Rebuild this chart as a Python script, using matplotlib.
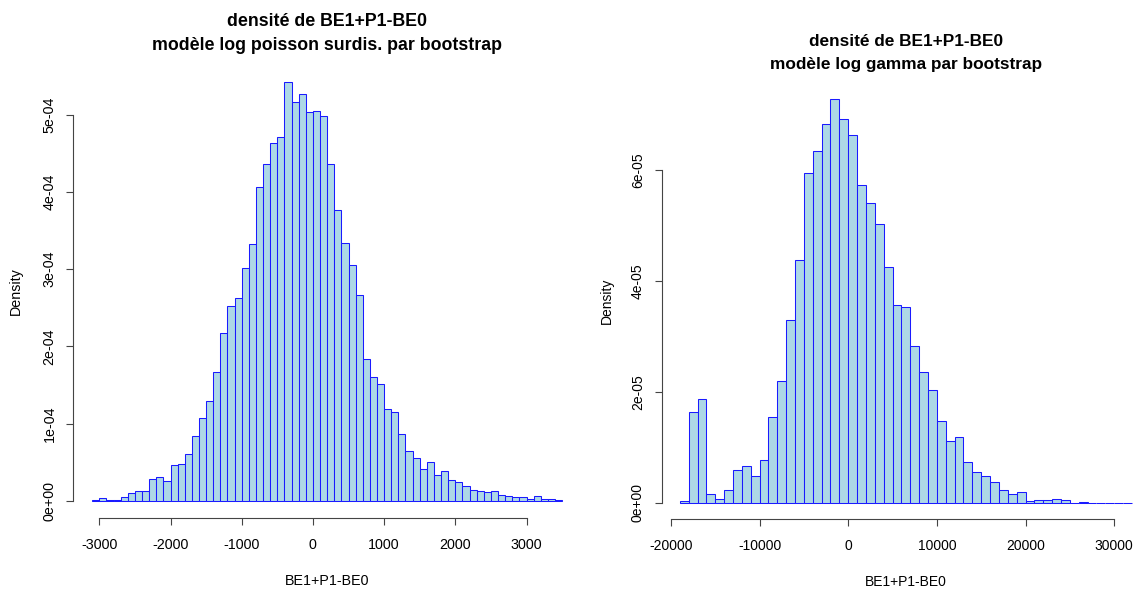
import matplotlib
matplotlib.use("Agg")
import matplotlib.pyplot as plt
import numpy as np

# densite bootstrap BE1+P1-BE0, lue sur l'image
# modele log poisson surdisperse : classes de 100, de -3100 a 3500 (en 1e-4)
pois_start = -3100
pois_width = 100
pois_dens = [0.017, 0.035, 0.017, 0.017, 0.056, 0.10, 0.134, 0.134, 0.29, 0.306,
             0.263, 0.46, 0.475, 0.604, 0.846, 1.07, 1.295, 1.675, 2.18, 2.52,
             2.63, 3.02, 3.33, 4.06, 4.355, 4.63, 4.71, 5.42, 5.16, 5.265,
             5.03, 5.05, 4.98, 4.36, 3.77, 3.34, 3.05, 2.67, 1.84, 1.61,
             1.515, 1.195, 1.15, 0.863, 0.652, 0.557, 0.414, 0.509, 0.341, 0.393,
             0.276, 0.246, 0.194, 0.142, 0.13, 0.117, 0.13, 0.082, 0.069, 0.056,
             0.056, 0.03, 0.069, 0.03, 0.022, 0.009]
pois_xticks = [-3000, -2000, -1000, 0, 1000, 2000, 3000]
pois_yticks = [0, 1e-4, 2e-4, 3e-4, 4e-4, 5e-4]

# modele log gamma : classes de 1000, de -19000 a 32000 (en 1e-5)
gam_start = -19000
gam_width = 1000
gam_dens = [0.036, 1.645, 1.868, 0.168, 0.078, 0.24, 0.583, 0.66, 0.486, 0.763,
            1.55, 2.186, 3.30, 4.366, 5.95, 6.336, 6.83, 7.27, 6.907, 6.62,
            5.73, 5.41, 5.015, 4.25, 3.57, 3.52, 2.82, 2.35, 2.04, 1.47,
            1.12, 1.19, 0.727, 0.547, 0.486, 0.372, 0.234, 0.168, 0.198, 0.036,
            0.06, 0.054, 0.078, 0.054, 0.0, 0.012, 0.006, 0.0, 0.0, 0.0, 0.0]
gam_xticks = [-20000, -10000, 0, 10000, 20000, 30000]
gam_yticks = [0, 2e-5, 4e-5, 6e-5]

titre1 = "densité de BE1+P1-BE0"
titre_pois = "modèle log poisson surdis. par bootstrap"
titre_gam = "modèle log gamma par bootstrap"
xlab = "BE1+P1-BE0"

W, H = 1135, 590
plt.rcParams['font.family'] = ['Liberation Sans', 'DejaVu Sans']
plt.rcParams['axes.unicode_minus'] = False

fig = plt.figure(figsize=(W / 100, H / 100), dpi=100)


def rect(l, t, r, b):
    return [l / W, 1 - b / H, (r - l) / W, (b - t) / H]


def histo(ax, start, width, dens, scale, xticks, yticks, fs):
    edges = start + width * np.arange(len(dens))
    ax.bar(edges, np.array(dens) * scale, width=width, align='edge',
           color='lightblue', edgecolor='#1a1aff', linewidth=0.75)
    lo = edges[0]
    hi = edges[-1] + width
    pad = 0.04 * (hi - lo)
    ax.set_xlim(lo - pad, hi + pad)
    top = max(dens) * scale
    ax.set_ylim(-0.04 * top, 1.04 * top)
    for s in ['top', 'right']:
        ax.spines[s].set_visible(False)
    for s in ['left', 'bottom']:
        ax.spines[s].set_color('#444444')
        ax.spines[s].set_linewidth(0.8)
    ax.spines['left'].set_bounds(yticks[0], yticks[-1])
    ax.spines['bottom'].set_bounds(xticks[0], xticks[-1])
    ax.set_xticks(xticks)
    ax.set_xticklabels([str(v) for v in xticks], fontsize=fs)
    ax.set_yticks(yticks)
    ax.set_yticklabels([f"{v:.0e}" for v in yticks], fontsize=fs,
                       rotation=90, va='center')
    ax.tick_params(axis='both', length=5.2, width=0.8, color='#444444')
    ax.tick_params(axis='x', pad=9)
    ax.tick_params(axis='y', pad=7)


ax1 = fig.add_axes(rect(73.4, 65.3, 580.9, 517.8))
histo(ax1, pois_start, pois_width, pois_dens, 1e-4, pois_xticks, pois_yticks, 10.3)
ax2 = fig.add_axes(rect(661.7, 83.1, 1150.0, 519.0))
histo(ax2, gam_start, gam_width, gam_dens, 1e-5, gam_xticks, gam_yticks, 10.0)

# titres et etiquettes
fig.text(327 / W, 1 - 22 / H, titre1, ha='center', va='center',
         fontsize=12.8, fontweight='bold')
fig.text(327 / W, 1 - 45.5 / H, titre_pois, ha='center', va='center',
         fontsize=12.8, fontweight='bold')
fig.text(906 / W, 1 - 42 / H, titre1, ha='center', va='center',
         fontsize=12.4, fontweight='bold')
fig.text(906 / W, 1 - 64.5 / H, titre_gam, ha='center', va='center',
         fontsize=12.4, fontweight='bold')

fig.text(327 / W, 1 - 581 / H, xlab, ha='center', va='center', fontsize=10.3)
fig.text(906 / W, 1 - 582 / H, xlab, ha='center', va='center', fontsize=10.0)
fig.text(16 / W, 1 - 291 / H, "Density", ha='center', va='center',
         rotation=90, fontsize=10.3)
fig.text(607 / W, 1 - 301 / H, "Density", ha='center', va='center',
         rotation=90, fontsize=10.0)

fig.savefig("out.png", dpi=100)
